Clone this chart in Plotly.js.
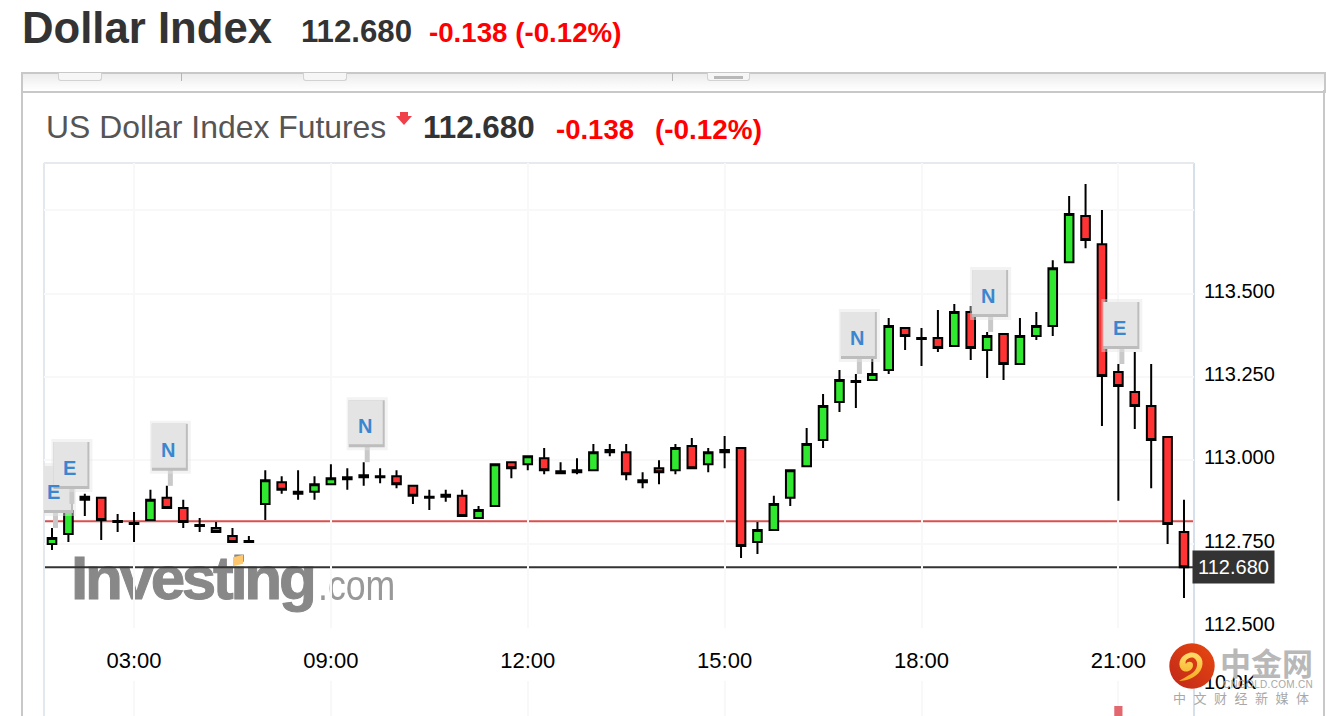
<!DOCTYPE html>
<html>
<head>
<meta charset="utf-8">
<title>Dollar Index</title>
<script src="https://cdn.plot.ly/plotly-3.0.1.min.js"></script>
<style>
html,body{margin:0;padding:0;background:#fff;width:1326px;height:716px;overflow:hidden;font-family:"Liberation Sans",Arial,sans-serif}
.a{position:absolute;white-space:nowrap;line-height:1}
#chart{position:absolute;left:0;top:0;width:1326px;height:716px;z-index:2}
#under{position:absolute;left:0;top:0;width:1326px;height:716px;z-index:1}
#over{position:absolute;left:0;top:0;width:1326px;height:716px;z-index:3;pointer-events:none}
.btn{position:absolute;top:73px;height:7px;background:#f6f6f6;border:1px solid #d2d2d2;border-top:none;border-radius:0 0 3px 3px}
.sep{position:absolute;top:73px;width:1px;height:8px;background:#b5b5b5}
</style>
</head>
<body>
<div id="under">
  <div class="a" style="left:22px;top:6px;font-size:43.7px;font-weight:bold;color:#333">Dollar Index</div>
  <div class="a" style="left:301px;top:16px;font-size:31.2px;font-weight:bold;color:#333">112.680</div>
  <div class="a" style="left:429px;top:19px;font-size:27.7px;font-weight:bold;color:#f00">-0.138 (-0.12%)</div>

  <div style="position:absolute;left:21px;top:72px;width:1301px;height:17px;border:2px solid #c8c8c8;border-bottom:2px solid #c8c8c8;background:linear-gradient(#ececec,#fafafa 70%,#fff)"></div>
  <div style="position:absolute;left:21px;top:90px;width:2px;height:626px;background:#c8c8c8"></div>
  <div style="position:absolute;left:1323px;top:90px;width:2px;height:626px;background:#c8c8c8"></div>
  <div class="btn" style="left:58px;width:42px"></div>
  <div class="btn" style="left:303px;width:42px"></div>
  <div class="btn" style="left:707px;width:41px"><div style="margin:3px 6px 0;height:3px;background:#b8b8b8"></div></div>
  <div class="sep" style="left:181px"></div>
  <div class="sep" style="left:672px"></div>

  <div class="a" style="left:46px;top:112px;font-size:31.9px;color:#555">US Dollar Index Futures</div>
  <svg class="a" style="left:394px;top:110px" width="20" height="18"><path d="M6 2h8v4h4l-8 9-8-9h4z" fill="#f0404a"/></svg>
  <div class="a" style="left:423px;top:112px;font-size:31.4px;font-weight:bold;color:#333">112.680</div>
  <div class="a" style="left:556px;top:116px;font-size:27.5px;font-weight:bold;color:#f00">-0.138</div>
  <div class="a" style="left:655px;top:116px;font-size:27.9px;font-weight:bold;color:#f00">(-0.12%)</div>

  <div class="a" style="left:71px;top:547px;font-size:62px;font-weight:bold;color:#888;letter-spacing:-3.3px;-webkit-text-stroke:1px #888;filter:blur(.5px)">Investing</div>
  <div style="position:absolute;left:233px;top:556px;width:10px;height:9px;background:#ffc86e;transform:skewY(-14deg)"></div>
  <div class="a" style="left:318px;top:565px;font-size:42px;color:#999;transform:scaleX(.85);transform-origin:left top;filter:blur(.3px)">.com</div>
</div>

<div id="chart"></div>

<div id="over">
  <svg class="a" style="left:1169px;top:643px" width="46" height="46" viewBox="0 0 46 46">
    <defs><linearGradient id="g" x1="0" y1="1" x2="1" y2="0"><stop offset="0" stop-color="#c0271a"/><stop offset="1" stop-color="#e8480f"/></linearGradient>
    <linearGradient id="s" x1="0" y1="0" x2="0" y2="1"><stop offset="0" stop-color="#ffdf6a"/><stop offset="1" stop-color="#f6a91e"/></linearGradient></defs>
    <circle cx="23" cy="23" r="22.7" fill="url(#g)"/>
    <path d="M10 38C18 38 30 34 33 24 36 14 27 8 20 10 12 12 8 20 12 26 16 31 24 28 24 22 24 18 18 18 17 21 15 18 20 13 25 15 30 18 29 27 22 31 17 34 13 36 10 38Z" fill="url(#s)"/>
  </svg>
  <div class="a" style="left:1220px;top:646px;font-size:31px;font-weight:bold;color:#b8b8b8;font-family:'Noto Sans CJK SC'">中金网</div>
  <div class="a" style="left:1223px;top:680px;font-size:10px;color:#a8a8a8;letter-spacing:.3px">CNGOLD.COM.CN</div>
  <div class="a" style="left:1173px;top:691px;font-size:13px;color:#a8a8a8;letter-spacing:7.5px;font-family:'Noto Sans CJK SC'">中文财经新媒体</div>
</div>

<script>
// 15-minute bars; the session pause runs from 05:00 to 08:00
const times = ["01:45","02:00","02:15","02:30","02:45","03:00","03:15","03:30","03:45","04:00","04:15","04:30","04:45",
  "08:00","08:15","08:30","08:45","09:00","09:15","09:30","09:45","10:00","10:15","10:30","10:45","11:00","11:15","11:30","11:45",
  "12:00","12:15","12:30","12:45","13:00","13:15","13:30","13:45","14:00","14:15","14:30","14:45",
  "15:00","15:15","15:30","15:45","16:00","16:15","16:30","16:45","17:00","17:15","17:30","17:45",
  "18:00","18:15","18:30","18:45","19:00","19:15","19:30","19:45","20:00","20:15","20:30","20:45",
  "21:00","21:15","21:30","21:45","22:00"];
const open = [112.750,112.780,112.882,112.888,112.819,112.813,112.822,112.888,112.858,112.807,112.798,112.774,112.759,
  112.870,112.935,112.906,112.906,112.929,112.950,112.956,112.953,112.953,112.924,112.891,112.897,112.894,112.828,112.864,112.995,
  112.989,113.007,112.968,112.971,112.971,113.031,113.025,112.941,112.977,112.971,113.043,112.989,
  113.025,113.037,112.756,112.792,112.888,112.983,113.061,113.175,113.238,113.241,113.271,113.397,
  113.367,113.367,113.343,113.445,113.331,113.379,113.289,113.373,113.403,113.594,113.732,113.648,
  113.265,113.205,113.163,113.070,112.786];
const high = [112.798,112.870,112.900,112.888,112.840,112.846,112.912,112.924,112.882,112.828,112.816,112.798,112.774,
  112.971,112.953,112.971,112.953,112.989,112.977,112.995,112.977,112.971,112.924,112.912,112.912,112.912,112.864,112.989,112.995,
  113.013,113.037,112.995,113.007,113.049,113.049,113.049,112.965,113.001,113.049,113.067,113.037,
  113.073,113.037,112.816,112.894,112.971,113.097,113.199,113.271,113.259,113.313,113.427,113.397,
  113.397,113.451,113.469,113.463,113.385,113.379,113.427,113.445,113.600,113.792,113.828,113.750,
  113.289,113.325,113.289,113.070,112.882];
const low = [112.732,112.756,112.834,112.762,112.786,112.756,112.822,112.858,112.798,112.786,112.786,112.756,112.756,
  112.822,112.900,112.882,112.882,112.929,112.912,112.924,112.932,112.917,112.870,112.852,112.876,112.834,112.828,112.864,112.947,
  112.971,112.959,112.959,112.959,112.971,113.013,112.941,112.917,112.929,112.959,112.977,112.965,
  112.977,112.708,112.720,112.792,112.864,112.983,113.037,113.145,113.157,113.241,113.259,113.331,
  113.283,113.325,113.343,113.301,113.247,113.241,113.289,113.361,113.373,113.594,113.636,113.103,
  112.879,113.094,112.917,112.750,112.588];
const close = [112.768,112.849,112.891,112.822,112.816,112.810,112.882,112.858,112.816,112.804,112.786,112.756,112.756,
  112.941,112.912,112.900,112.929,112.947,112.944,112.950,112.950,112.929,112.894,112.888,112.891,112.834,112.852,112.989,112.977,
  113.013,112.971,112.962,112.965,113.025,113.025,112.959,112.935,112.965,113.037,112.977,113.025,
  113.031,112.744,112.792,112.870,112.971,113.049,113.163,113.241,113.235,113.259,113.403,113.373,
  113.364,113.337,113.445,113.337,113.373,113.289,113.373,113.403,113.576,113.738,113.660,113.253,
  113.223,113.163,113.061,112.810,112.680];

const lastPrice = 112.680;
const prevClose = 112.818;
const priceTicks = [112.5,112.75,113,113.25,113.5,113.75];
const priceLabels = ["112.500","112.750","113.000","113.250","113.500",""];
const timeTicks = ["03:00","09:00","12:00","15:00","18:00","21:00"];
const volumeTimes = ["21:00"];
const volumeValues = [7800];
const flagTimes = ["01:45","02:00","03:30","09:30","17:00","19:00","21:00"];
const flagLetters = ["E","E","N","N","N","N","E"];

const grid = "#f8f8f8";
const candle = {
  type:"candlestick", x:times, open:open, high:high, low:low, close:close,
  xaxis:"x", yaxis:"y", whiskerwidth:0, hoverinfo:"skip",
  increasing:{line:{color:"#000",width:2},fillcolor:"#2fe82f"},
  decreasing:{line:{color:"#000",width:2},fillcolor:"#ff3333"}
};
const vol = {type:"bar",x:volumeTimes,y:volumeValues,xaxis:"x",yaxis:"y2",width:0.5,
  marker:{color:"#e2686f",line:{width:0}},hoverinfo:"skip"};

const shapes = [
  {type:"line",xref:"paper",x0:0,x1:1,yref:"y",y0:prevClose,y1:prevClose,line:{color:"#d9504e",width:2},layer:"below"},
  {type:"line",xref:"paper",x0:0,x1:1,yref:"y",y0:lastPrice,y1:lastPrice,line:{color:"#333",width:2},layer:"below"},
  {type:"line",xref:"paper",x0:0,x1:0,yref:"paper",y0:0,y1:1,line:{color:"#e3e8ee",width:2},layer:"below"},
  {type:"line",xref:"paper",x0:1,x1:1,yref:"paper",y0:0,y1:1,line:{color:"#d6e0ea",width:2},layer:"below"},
  {type:"line",xref:"paper",x0:0,x1:1,yref:"paper",y0:1,y1:1,line:{color:"#e6eaef",width:2},layer:"below"}
];
const annotations = [{
  xref:"paper",x:1,xanchor:"left",xshift:-2,yref:"y",y:lastPrice,yanchor:"middle",showarrow:false,
  text:"112.680",font:{family:"Liberation Sans",size:20,color:"#fff"},bgcolor:"#333",width:81,height:32,borderpad:0
}];
function pixelRect(t,p,x0,x1,y0,y1,fill){
  return {type:"rect",xref:"x",yref:"y",xsizemode:"pixel",ysizemode:"pixel",xanchor:t,yanchor:p,
    x0:x0,x1:x1,y0:y0,y1:y1,fillcolor:fill,line:{width:0},layer:"above"};
}
flagTimes.forEach(function(t,k){
  const p = high[times.indexOf(t)];
  shapes.push(pixelRect(t,p,1,6,0,16,"#c9c9c9"));
  shapes.push(pixelRect(t,p,-17,24,12,65,"rgba(228,228,228,.45)"));
  shapes.push(pixelRect(t,p,-15,21,15,62,"#bdbdbd"));
  shapes.push(pixelRect(t,p,-15,19,18,62,"#e4e4e4"));
  annotations.push({xref:"x",x:t,yref:"y",y:p,yshift:36,xshift:1,showarrow:false,
    text:"<b>"+flagLetters[k]+"</b>",font:{family:"Liberation Sans",size:20,color:"#3a87d0"}});
});

const layout = {
  width:1326,height:716,autosize:false,
  margin:{l:44,r:132,t:163,b:0,pad:0},
  paper_bgcolor:"rgba(0,0,0,0)",plot_bgcolor:"rgba(0,0,0,0)",
  showlegend:false,boxgap:0.25,hovermode:false,dragmode:false,
  font:{family:"Liberation Sans",size:20,color:"#000"},
  xaxis:{type:"category",categoryorder:"array",categoryarray:times,range:[-0.488,69.61],
    rangeslider:{visible:false},tickmode:"array",tickvals:timeTicks,ticktext:timeTicks,
    ticks:"outside",ticklen:13,tickcolor:"rgba(0,0,0,0)",tickfont:{size:22,color:"#000"},
    showgrid:true,gridcolor:grid,gridwidth:2,zeroline:false,showline:false,anchor:"y",fixedrange:true},
  yaxis:{domain:[0.159,1],range:[112.498,113.891],side:"right",anchor:"x",tickmode:"array",
    tickvals:priceTicks,ticktext:priceLabels,ticks:"outside",ticklen:5,tickcolor:"rgba(0,0,0,0)",
    ticklabelshift:-3,tickfont:{size:20,color:"#000"},
    showgrid:true,gridcolor:grid,gridwidth:2,zeroline:false,showline:false,fixedrange:true},
  yaxis2:{domain:[0,0.0633],range:[6880,10090],side:"right",anchor:"x",tickmode:"array",
    tickvals:[10000],ticktext:["10.0K"],ticks:"outside",ticklen:5,tickcolor:"rgba(0,0,0,0)",
    tickfont:{size:20,color:"#000"},showgrid:true,gridcolor:grid,gridwidth:2,zeroline:false,showline:false,fixedrange:true},
  shapes:shapes,annotations:annotations
};
Plotly.newPlot("chart",[candle,vol],layout,{displayModeBar:false,staticPlot:true,responsive:false});
</script>
</body>
</html>
